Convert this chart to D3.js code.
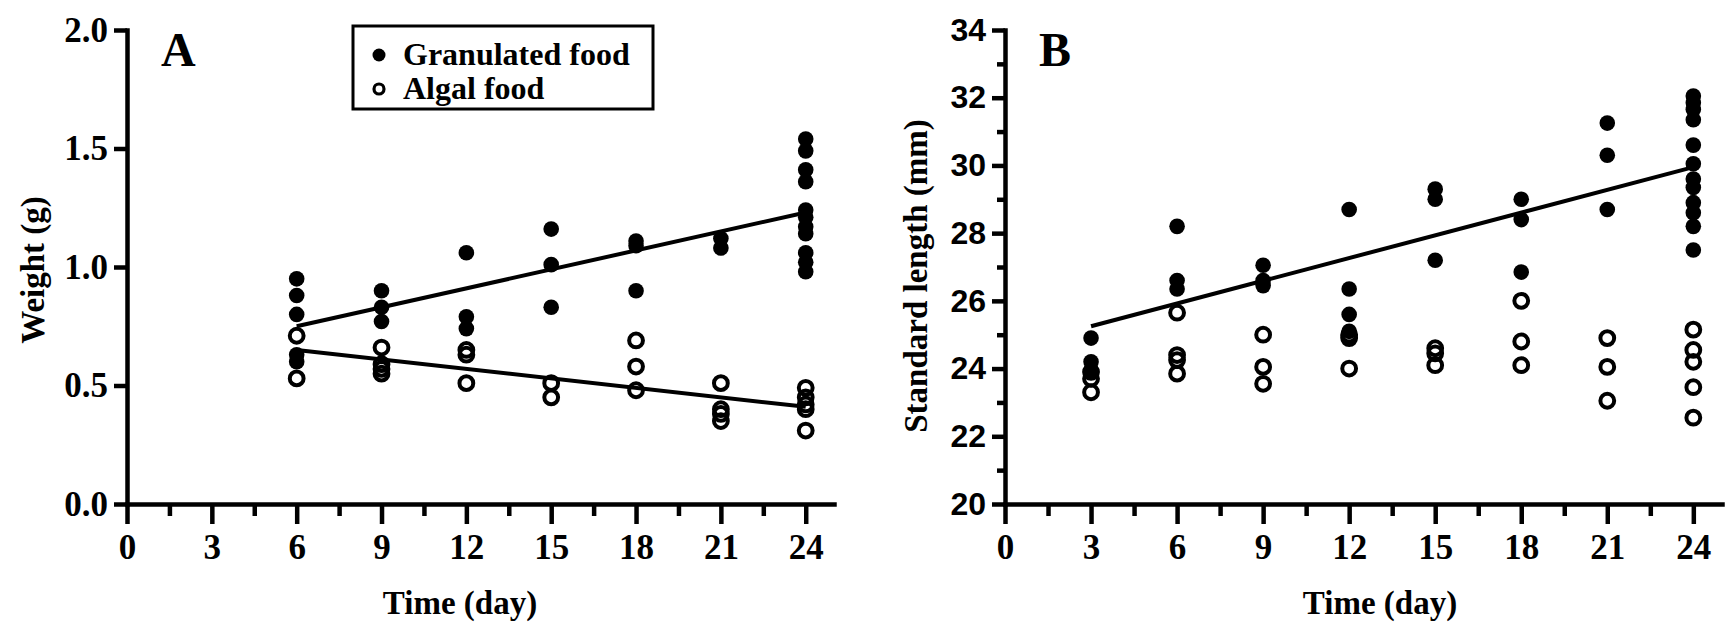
<!DOCTYPE html>
<html>
<head>
<meta charset="utf-8">
<script src="https://cdn.jsdelivr.net/npm/d3@7"></script>
<style>
    body { margin: 0; background: #fff; }
    svg { display: block; }
</style>
</head>
<body>
<div id="chart"></div>
<script>
// values (day, value)
var timeTicks = [0, 3, 6, 9, 12, 15, 18, 21, 24];
var timeMinorTicks = [1.5, 4.5, 7.5, 10.5, 13.5, 16.5, 19.5, 22.5];
var weightTicks = [0, 0.5, 1.0, 1.5, 2.0];
var lengthTicks = [20, 22, 24, 26, 28, 30, 32, 34];
var lengthMinorTicks = [21, 23, 25, 27, 29, 31, 33];

var weightGranulated = [
    [6, 0.95], [6, 0.88], [6, 0.80], [6, 0.63], [6, 0.60],
    [9, 0.90], [9, 0.83], [9, 0.77],
    [12, 1.06], [12, 0.79], [12, 0.74],
    [15, 1.16], [15, 1.01], [15, 0.83],
    [18, 1.11], [18, 1.09], [18, 0.90],
    [21, 1.12], [21, 1.08],
    [24, 1.54], [24, 1.49], [24, 1.41], [24, 1.36], [24, 1.24], [24, 1.21],
    [24, 1.17], [24, 1.14], [24, 1.06], [24, 1.02], [24, 0.98]
];
var weightAlgal = [
    [6, 0.71], [6, 0.53],
    [9, 0.66], [9, 0.59], [9, 0.57], [9, 0.55],
    [12, 0.65], [12, 0.63], [12, 0.51],
    [15, 0.51], [15, 0.45],
    [18, 0.69], [18, 0.58], [18, 0.48],
    [21, 0.51], [21, 0.40], [21, 0.38], [21, 0.35],
    [24, 0.49], [24, 0.45], [24, 0.42], [24, 0.40], [24, 0.31]
];
var lengthGranulated = [
    [3, 24.9], [3, 24.2], [3, 23.95],
    [6, 28.2], [6, 26.6], [6, 26.35],
    [9, 27.05], [9, 26.6], [9, 26.45],
    [12, 28.7], [12, 26.35], [12, 25.6], [12, 25.1],
    [15, 29.3], [15, 29.0], [15, 27.2],
    [18, 29.0], [18, 28.4], [18, 26.85],
    [21, 31.25], [21, 30.3], [21, 28.7],
    [24, 32.05], [24, 31.85], [24, 31.65], [24, 31.35], [24, 30.6], [24, 30.05],
    [24, 29.6], [24, 29.35], [24, 28.9], [24, 28.6], [24, 28.2], [24, 27.5]
];
var lengthAlgal = [
    [3, 23.9], [3, 23.7], [3, 23.3],
    [6, 25.65], [6, 24.4], [6, 24.25], [6, 23.85],
    [9, 25.0], [9, 24.05], [9, 23.55],
    [12, 25.0], [12, 24.9], [12, 24.0],
    [15, 24.6], [15, 24.45], [15, 24.1],
    [18, 26.0], [18, 24.8], [18, 24.1],
    [21, 24.9], [21, 24.05], [21, 23.05],
    [24, 25.15], [24, 24.55], [24, 24.2], [24, 23.45], [24, 22.55]
];
// fitted lines, end points
var weightGranulatedFit = [[6, 0.75], [24, 1.23]];
var weightAlgalFit = [[6, 0.65], [24, 0.41]];
var lengthGranulatedFit = [[3, 25.25], [24, 29.95]];

var W = 1732, H = 628;
var serif = "'Liberation Serif', 'Times New Roman', serif",
    sans = "'Liberation Sans', Arial, sans-serif";

var svg = d3.select("#chart").append("svg")
        .attr("width", W)
        .attr("height", H);

// style an axis group: thick black lines, bold labels
function styleAxis(g, font, size) {
    g.select(".domain").attr("stroke", "#000").attr("stroke-width", 4.5)
            .attr("stroke-linecap", "square");
    g.selectAll(".tick line").attr("stroke", "#000").attr("stroke-width", 4.5);
    g.selectAll(".tick text")
            .attr("fill", "#000")
            .attr("font-family", font)
            .attr("font-weight", "bold")
            .attr("font-size", size);
}

function panel(opt) {
    var x = d3.scaleLinear().domain([0, 25]).range([opt.left, opt.right]),
            y = d3.scaleLinear().domain(opt.yDomain).range([504, 30]),
            g = svg.append("g");

    // x axis, minor then major
    g.append("g")
            .attr("transform", "translate(0," + y.range()[0] + ")")
            .call(d3.axisBottom(x).tickValues(timeMinorTicks).tickSize(12).tickFormat(""))
            .call(function(a) { a.select(".domain").remove(); styleAxis(a); });
    g.append("g")
            .attr("transform", "translate(0," + y.range()[0] + ")")
            .call(d3.axisBottom(x).tickValues(timeTicks).tickSize(20).tickSizeOuter(0).tickPadding(10))
            .call(styleAxis, serif, 35);

    // y axis
    if (opt.yMinor)
        g.append("g")
                .attr("transform", "translate(" + opt.left + ",0)")
                .call(d3.axisLeft(y).tickValues(opt.yMinor).tickSize(8).tickFormat(""))
                .call(function(a) { a.select(".domain").remove(); styleAxis(a); });
    g.append("g")
            .attr("transform", "translate(" + opt.left + ",0)")
            .call(d3.axisLeft(y).tickValues(opt.yTicks).tickSize(13).tickSizeOuter(0)
                    .tickPadding(6).tickFormat(opt.yFormat))
            .call(styleAxis, opt.yFont, opt.yFontSize);

    // fitted lines
    var line = d3.line().x(function(d) { return x(d[0]); }).y(function(d) { return y(d[1]); });
    opt.fits.forEach(function(f) {
        g.append("path").datum(f)
                .attr("d", line)
                .attr("fill", "none")
                .attr("stroke", "#000")
                .attr("stroke-width", 4);
    });

    // points
    g.append("g").selectAll("circle").data(opt.filled).enter().append("circle")
            .attr("cx", function(d) { return x(d[0]); })
            .attr("cy", function(d) { return y(d[1]); })
            .attr("r", 7.8)
            .attr("fill", "#000");
    g.append("g").selectAll("circle").data(opt.open).enter().append("circle")
            .attr("cx", function(d) { return x(d[0]); })
            .attr("cy", function(d) { return y(d[1]); })
            .attr("r", 6.9)
            .attr("fill", "none")
            .attr("stroke", "#000")
            .attr("stroke-width", 4);

    // panel letter
    g.append("text")
            .attr("x", opt.left + 34)
            .attr("y", 66)
            .attr("font-family", serif)
            .attr("font-weight", "bold")
            .attr("font-size", 48)
            .text(opt.letter);

    // axis titles
    g.append("text")
            .attr("x", opt.xTitleX)
            .attr("y", 614)
            .attr("text-anchor", "middle")
            .attr("font-family", serif)
            .attr("font-weight", "bold")
            .attr("font-size", 33)
            .text("Time (day)");
    g.append("text")
            .attr("transform", "translate(" + opt.yTitleX + "," + opt.yTitleY + ") rotate(-90)")
            .attr("text-anchor", "middle")
            .attr("font-family", serif)
            .attr("font-weight", "bold")
            .attr("font-size", 33)
            .text(opt.yTitle);
    return g;
}

panel({
    left: 127, right: 834,
    yDomain: [0, 2], yTicks: weightTicks, yFormat: d3.format(".1f"),
    yFont: serif, yFontSize: 35,
    fits: [weightGranulatedFit, weightAlgalFit],
    filled: weightGranulated, open: weightAlgal,
    letter: "A", xTitleX: 460,
    yTitle: "Weight (g)", yTitleX: 44, yTitleY: 270
});

panel({
    left: 1005, right: 1722,
    yDomain: [20, 34], yTicks: lengthTicks, yMinor: lengthMinorTicks, yFormat: d3.format("d"),
    yFont: sans, yFontSize: 32,
    fits: [lengthGranulatedFit],
    filled: lengthGranulated, open: lengthAlgal,
    letter: "B", xTitleX: 1380,
    yTitle: "Standard length (mm)", yTitleX: 927, yTitleY: 276
});

// legend of panel A
var legendItems = ["Granulated food", "Algal food"];
var legend = svg.append("g");
legend.append("rect")
        .attr("x", 353).attr("y", 26)
        .attr("width", 300).attr("height", 83)
        .attr("fill", "#fff")
        .attr("stroke", "#000")
        .attr("stroke-width", 3);
legendItems.forEach(function(name, i) {
    var cy = 55 + i * 34;
    legend.append("circle")
            .attr("cx", 379).attr("cy", cy)
            .attr("r", i === 0 ? 6.5 : 5)
            .attr("fill", i === 0 ? "#000" : "none")
            .attr("stroke", "#000")
            .attr("stroke-width", i === 0 ? 0 : 3.2);
    legend.append("text")
            .attr("x", 403).attr("y", cy + 10)
            .attr("font-family", serif)
            .attr("font-weight", "bold")
            .attr("font-size", 32)
            .text(name);
});
</script>
</body>
</html>
